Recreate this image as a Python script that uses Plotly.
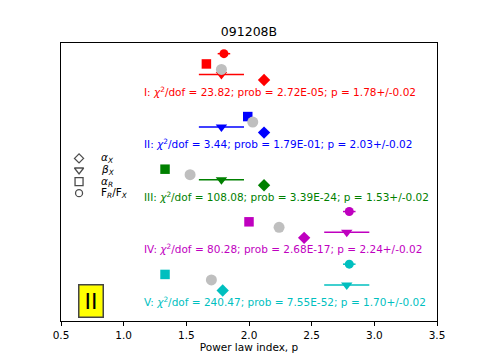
import plotly.graph_objects as go

# ---- data ----
groups = ["I", "II", "III", "IV", "V"]
colors = ["#ff0000", "#0000ff", "#008000", "#bf00bf", "#00bfbf"]
chi2_dof = [23.82, 3.44, 108.08, 80.28, 240.47]
prob = ["2.72E-05", "1.79E-01", "3.39E-24", "2.68E-17", "7.55E-52"]
p_index = [1.78, 2.03, 1.53, 2.24, 1.70]
p_err = [0.02, 0.02, 0.02, 0.02, 0.02]

alpha_x = [2.12, 2.12, 2.12, 2.44, 1.79]          # diamonds
beta_x = [1.78, 1.78, 1.78, 2.78, 2.78]           # down triangles
beta_x_err = [0.18, 0.18, 0.18, 0.18, 0.18]
alpha_r = [1.66, 1.99, 1.33, 2.00, 1.33]          # squares
fr_fx = [1.78, 2.03, 1.53, 2.24, 1.70]            # grey circles
extra = [1.80, None, None, 2.80, 2.80]            # coloured circles
extra_err = [0.05, 0.05, 0.05, 0.05, 0.05]

legend_symbols = ["diamond-open", "triangle-down-open", "square-open", "circle-open"]
legend_labels = ["<i>α</i><sub><i>X</i></sub>", "<i>β</i><sub><i>X</i></sub>",
                 "<i>α</i><sub><i>R</i></sub>", "F<sub><i>R</i></sub>/F<sub><i>X</i></sub>"]
legend_sizes = [7, 8, 8, 7]

x_ticks = [0.5, 1.0, 1.5, 2.0, 2.5, 3.0, 3.5]

# ---- layout constants ----
group_base = [40, 30, 20, 10, 0]
off_text, off_dia, off_tri, off_circ, off_sq, off_top = 3.7, 5.8, 6.85, 7.8, 8.85, 10.8
legend_y = [30.9, 28.7, 26.5, 24.3]
FONT = "DejaVu Sans"

fig = go.Figure()

for i, g in enumerate(groups):
    c = colors[i]
    b = group_base[i]
    if extra[i] is not None:
        fig.add_trace(go.Scatter(
            x=[extra[i]], y=[b + off_top], mode="markers",
            marker=dict(symbol="circle", size=9, color=c),
            error_x=dict(type="data", array=[extra_err[i]], color=c, thickness=1.5, width=0),
            showlegend=False))
    fig.add_trace(go.Scatter(
        x=[alpha_r[i]], y=[b + off_sq], mode="markers",
        marker=dict(symbol="square", size=9.5, color=c), showlegend=False))
    fig.add_trace(go.Scatter(
        x=[beta_x[i]], y=[b + off_tri], mode="markers",
        marker=dict(symbol="triangle-down", size=10, color=c),
        error_x=dict(type="data", array=[beta_x_err[i]], color=c, thickness=1.5, width=0),
        showlegend=False))
    fig.add_trace(go.Scatter(
        x=[alpha_x[i]], y=[b + off_dia], mode="markers",
        marker=dict(symbol="diamond", size=9.5, color=c), showlegend=False))
    fig.add_annotation(
        x=1.146, y=b + off_text, xref="x", yref="y", xanchor="left", yanchor="middle",
        showarrow=False,
        text=f"{g}: <i>χ</i><sup>2</sup>/dof = {chi2_dof[i]:.2f}; prob = {prob[i]}; "
             f"p = {p_index[i]:.2f}+/-{p_err[i]:.2f}",
        font=dict(family=FONT, size=10.5, color=c))

fig.add_trace(go.Scatter(
    x=fr_fx, y=[b + off_circ for b in group_base], mode="markers",
    marker=dict(symbol="circle", size=11, color="#bfbfbf"), showlegend=False))

# legend keys
fig.add_trace(go.Scatter(
    x=[0.644] * len(legend_symbols), y=legend_y, mode="markers",
    marker=dict(symbol=legend_symbols, size=legend_sizes, color="black",
                line=dict(color="black", width=1.3)),
    showlegend=False))
for lab, yy in zip(legend_labels, legend_y):
    fig.add_annotation(x=0.805, y=yy, xref="x", yref="y", xanchor="left", yanchor="middle",
                       showarrow=False, text=lab, font=dict(family=FONT, size=10.5, color="black"))

# "II" box
fig.add_annotation(x=0.74, y=3.87, xref="x", yref="y", showarrow=False, text="II",
                   font=dict(family=FONT, size=22, color="black"),
                   bgcolor="#ffff00", bordercolor="#444444", borderwidth=1.5,
                   width=23, height=31, borderpad=0)

fig.update_layout(
    width=485, height=364,
    margin=dict(l=61, r=48, t=43, b=41),
    paper_bgcolor="white", plot_bgcolor="white",
    font=dict(family=FONT, size=10.5, color="black"),
    title=dict(text="091208B", x=0.5, xref="paper", xanchor="center",
               y=1 - 31.7 / 364, yref="container", yanchor="middle",
               font=dict(family=FONT, size=12.5, color="black")),
    xaxis=dict(range=[0.5, 3.5], tickvals=x_ticks, ticktext=[f"{t:.1f}" for t in x_ticks],
               ticks="outside", ticklen=4, tickcolor="black", showline=True, mirror=True,
               linecolor="black", linewidth=1, showgrid=False, zeroline=False,
               title=dict(text="Power law index, p", standoff=4,
                          font=dict(family=FONT, size=10.5))),
    yaxis=dict(range=[0, 52.83], showticklabels=False, ticks="", showline=True, mirror=True,
               linecolor="black", linewidth=1, showgrid=False, zeroline=False),
)

fig.write_html("out.html", config={"displayModeBar": False},
               post_script="document.body.style.margin='0';document.body.style.overflow='hidden';")
